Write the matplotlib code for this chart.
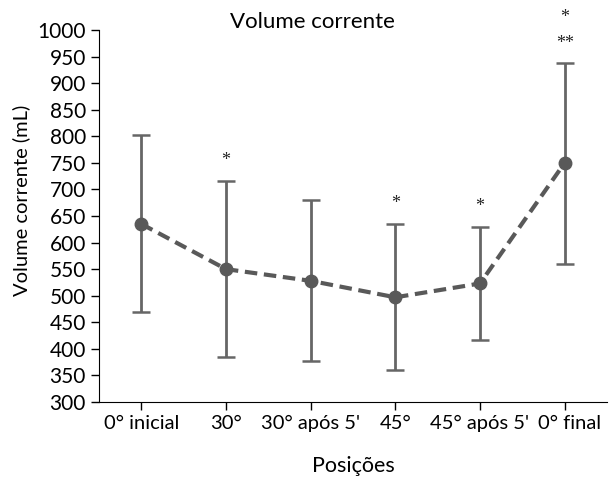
import matplotlib
matplotlib.use('Agg')
import matplotlib.pyplot as plt
import matplotlib.transforms as mtransforms

plt.rcParams['font.family'] = ['Lato', 'DejaVu Sans']

# dados
posicoes = ["0° inicial", "30°", "30° após 5'", "45°", "45° após 5'", "0° final"]
media = [635, 550, 528, 497, 523, 750]
limite_inf = [469, 385, 377, 361, 416, 560]
limite_sup = [802, 716, 680, 635, 630, 937]
marcas = ["", "*", "", "*", "*", "*\n**"]

x = list(range(len(posicoes)))
err_inf = [m - l for m, l in zip(media, limite_inf)]
err_sup = [s - m for m, s in zip(media, limite_sup)]

fig = plt.figure(figsize=(6.11, 4.78), dpi=100)
ax = fig.add_axes([99 / 611, 76 / 478, 508 / 611, 372 / 478])

cor = '#595959'
ax.errorbar(x, media, yerr=[err_inf, err_sup], fmt='none', ecolor='#666666',
            elinewidth=2, capsize=6.5, capthick=1.8, zorder=2)
ax.plot(x, media, linestyle=(0, (3, 1.6)), color=cor, linewidth=3,
        marker='o', markersize=9, zorder=3)

# asteriscos
for xi, s, sup in zip(x, marcas, limite_sup):
    if s:
        ax.text(xi, sup + 22, s, ha='center', va='bottom', fontsize=13,
                family='Liberation Serif', color='#222222',
                linespacing=1.7, clip_on=False)

ax.set_ylim(300, 1000)
ax.set_yticks(range(300, 1001, 50))
ax.set_xlim(-0.5, 5.5)
ax.set_xticks(x)
ax.set_xticklabels(posicoes)
ax.tick_params(axis='y', labelsize=15, length=6, width=1, direction='out')
ax.tick_params(axis='x', labelsize=14.5, length=6, width=1, direction='out')
for s in ['top', 'right']:
    ax.spines[s].set_visible(False)

# ultimo rotulo levemente deslocado para a direita (como no original)
ultimo = ax.get_xticklabels()[-1]
ultimo.set_transform(ultimo.get_transform() +
                     mtransforms.ScaledTranslation(0.05, 0, fig.dpi_scale_trans))

fig.text(0.512, 0.955, 'Volume corrente', ha='center', va='center', fontsize=16)
fig.text(0.035, 1 - 200 / 478, 'Volume corrente (mL)', rotation=90, ha='center',
         va='center', fontsize=14.5)
fig.text(353 / 611, 1 - 466 / 478, 'Posições', ha='center', va='center', fontsize=15.5)

fig.savefig('out.png', dpi=100)
